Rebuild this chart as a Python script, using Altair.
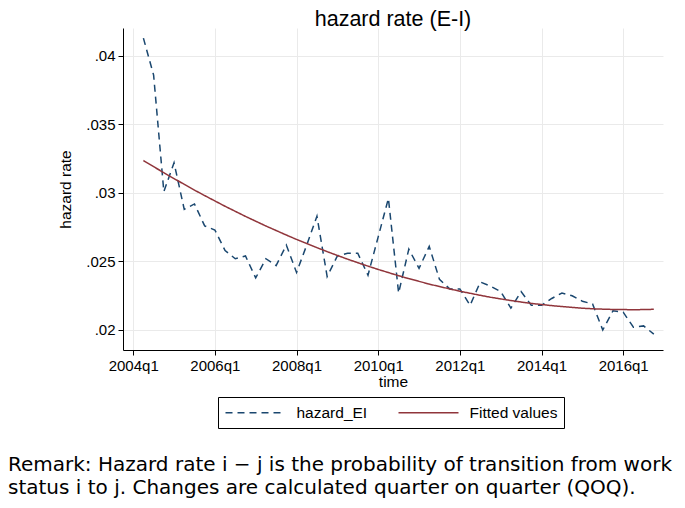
import altair as alt
import pandas as pd

# quarter index: 0 = 2004q1, data run 2004q2 .. 2016q4
QUARTER_INDEX = list(range(1, 52))
HAZARD_EI = [
    0.0413, 0.0386, 0.0301, 0.0322, 0.0288, 0.0292, 0.0276, 0.0273, 0.0258, 0.0252,
    0.0254, 0.0238, 0.0252, 0.0247, 0.0262, 0.0242, 0.0262, 0.0283, 0.0239, 0.0254,
    0.0256, 0.0256, 0.0240, 0.0268, 0.0296, 0.0227, 0.0259, 0.0245, 0.0261, 0.0237,
    0.0230, 0.0230, 0.0218, 0.0235, 0.0232, 0.0228, 0.0216, 0.0228, 0.0218, 0.0218,
    0.0223, 0.0227, 0.0225, 0.0221, 0.0219, 0.0200, 0.0214, 0.0213, 0.0202, 0.0203,
    0.0197,
]
FITTED = [
    0.03237, 0.03192, 0.03148, 0.03105, 0.03063, 0.03021, 0.02981, 0.02942, 0.02903, 0.02866,
    0.02829, 0.02794, 0.02759, 0.02726, 0.02693, 0.02661, 0.02631, 0.02601, 0.02572, 0.02544,
    0.02517, 0.02491, 0.02466, 0.02442, 0.02419, 0.02396, 0.02375, 0.02355, 0.02335, 0.02317,
    0.02300, 0.02283, 0.02268, 0.02253, 0.02239, 0.02227, 0.02215, 0.02204, 0.02194, 0.02186,
    0.02178, 0.02171, 0.02165, 0.02159, 0.02155, 0.02152, 0.02150, 0.02149, 0.02148, 0.02149,
    0.02151,
]
SERIES = ["hazard_EI", "Fitted values"]
COLORS = ["#1a476f", "#90353b"]
X_TICKS = [0, 8, 16, 24, 32, 40, 48]
Y_TICKS = [0.02, 0.025, 0.03, 0.035, 0.04]
TITLE = "hazard rate (E-I)"
REMARK_LINES = [
    "Remark: Hazard rate i \u2212 j is the probability of transition from work",
    "status i to j. Changes are calculated quarter on quarter (QOQ).",
]

rows = []
for q, h, f in zip(QUARTER_INDEX, HAZARD_EI, FITTED):
    rows.append({"q": q, "value": h, "series": SERIES[0]})
    rows.append({"q": q, "value": f, "series": SERIES[1]})
df = pd.DataFrame(rows)

FONT = "Liberation Sans"

lines = alt.Chart(df).mark_line(strokeWidth=1.5).encode(
    x=alt.X(
        "q:Q",
        scale=alt.Scale(domain=[-1.0, 51.9], nice=False, zero=False),
        axis=alt.Axis(
            values=X_TICKS,
            labelExpr="(2004 + datum.value / 4) + 'q1'",
            title="time",
            titlePadding=1,
        ),
    ),
    y=alt.Y(
        "value:Q",
        scale=alt.Scale(domain=[0.01854, 0.04204], nice=False, zero=False),
        axis=alt.Axis(
            values=Y_TICKS,
            labelExpr="substring(format(datum.value, '.3~f'), 1)",
            title="hazard rate",
            titlePadding=12,
        ),
    ),
    color=alt.Color(
        "series:N",
        scale=alt.Scale(domain=SERIES, range=COLORS),
        sort=SERIES,
        legend=alt.Legend(
            title=None,
            orient="none",
            legendX=95,
            legendY=369,
            direction="horizontal",
            strokeColor="black",
            fillColor="white",
            padding=6.5,
            symbolType="M-1,0H6.5",
            symbolSize=256,
            symbolStrokeWidth=1.5,
            labelFontSize=15.5,
            labelFont=FONT,
            labelColor="black",
            labelOffset=54,
            columnPadding=28,
            cornerRadius=0,
        ),
    ),
    strokeDash=alt.StrokeDash(
        "series:N",
        scale=alt.Scale(domain=SERIES, range=[[7, 5], [1, 0]]),
        sort=SERIES,
    ),
)

remark = alt.Chart(pd.DataFrame({"k": [0]})).mark_text(
    align="left",
    baseline="alphabetic",
    font="DejaVu Sans",
    fontSize=20,
    lineHeight=23,
    color="black",
).encode(
    x=alt.value(-115),
    y=alt.value(443),
    text=alt.value(REMARK_LINES),
)

chart = alt.layer(lines, remark).properties(
    width=540,
    height=322,
    padding={"left": 115, "top": 20, "right": 14, "bottom": 150},
    autosize=alt.AutoSizeParams(type="none"),
    title=alt.Title(
        TITLE,
        fontSize=21.5,
        font=FONT,
        fontWeight="normal",
        color="black",
        anchor="middle",
        offset=-2,
    ),
    background="white",
).configure_view(
    stroke=None,
).configure_axis(
    domainColor="black",
    domainWidth=1,
    tickColor="black",
    tickSize=5,
    gridColor="#eaeaea",
    gridWidth=1,
    labelFont=FONT,
    labelFontSize=15,
    labelColor="black",
    titleFont=FONT,
    titleFontSize=15.5,
    titleFontWeight="normal",
    titleColor="black",
    labelPadding=3,
).configure_axisY(
    labelAngle=0,
)

chart.save("out.html", embed_options={"renderer": "svg", "actions": False})
